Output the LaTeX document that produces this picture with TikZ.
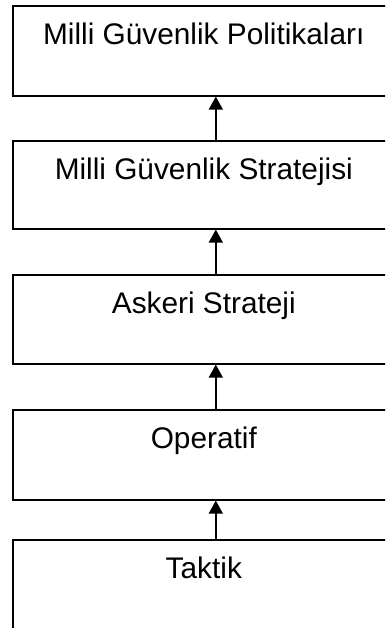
\documentclass[tikz,border=0pt]{standalone}
\usepackage{fontspec}
\setmainfont{Liberation Sans}
\usetikzlibrary{arrows.meta}
\begin{document}
\begin{tikzpicture}[x=1pt,y=1pt,
  levelbox/.style={draw=black, line width=1.6pt, anchor=north west, inner sep=0pt,
    minimum width=382pt, text height=39pt, text depth=51pt,
    font=\fontsize{29.8}{34}\selectfont},
  uparrow/.style={draw=black, line width=1.5pt, -{Triangle[width=14pt,length=13pt]}}]
\useasboundingbox (0,0) rectangle (385,-628);
\clip (0,0) rectangle (385,-628);
\node[levelbox] (b1) at (12,-5) {Milli Güvenlik Politikaları};
\node[levelbox, text depth=49pt] (b2) at (12,-140) {Milli Güvenlik Stratejisi};
\node[levelbox, text depth=50pt] (b3) at (12,-274) {Askeri Strateji};
\node[levelbox] (b4) at (12,-409) {Operatif};
\node[levelbox] (b5) at (12,-539) {Taktik};
\draw[uparrow] ([xshift=12pt]b2.north) -- ([xshift=12pt]b1.south);
\draw[uparrow] ([xshift=12pt]b3.north) -- ([xshift=12pt]b2.south);
\draw[uparrow] ([xshift=12pt]b4.north) -- ([xshift=12pt]b3.south);
\draw[uparrow] ([xshift=12pt]b5.north) -- ([xshift=12pt]b4.south);
\end{tikzpicture}
\end{document}
